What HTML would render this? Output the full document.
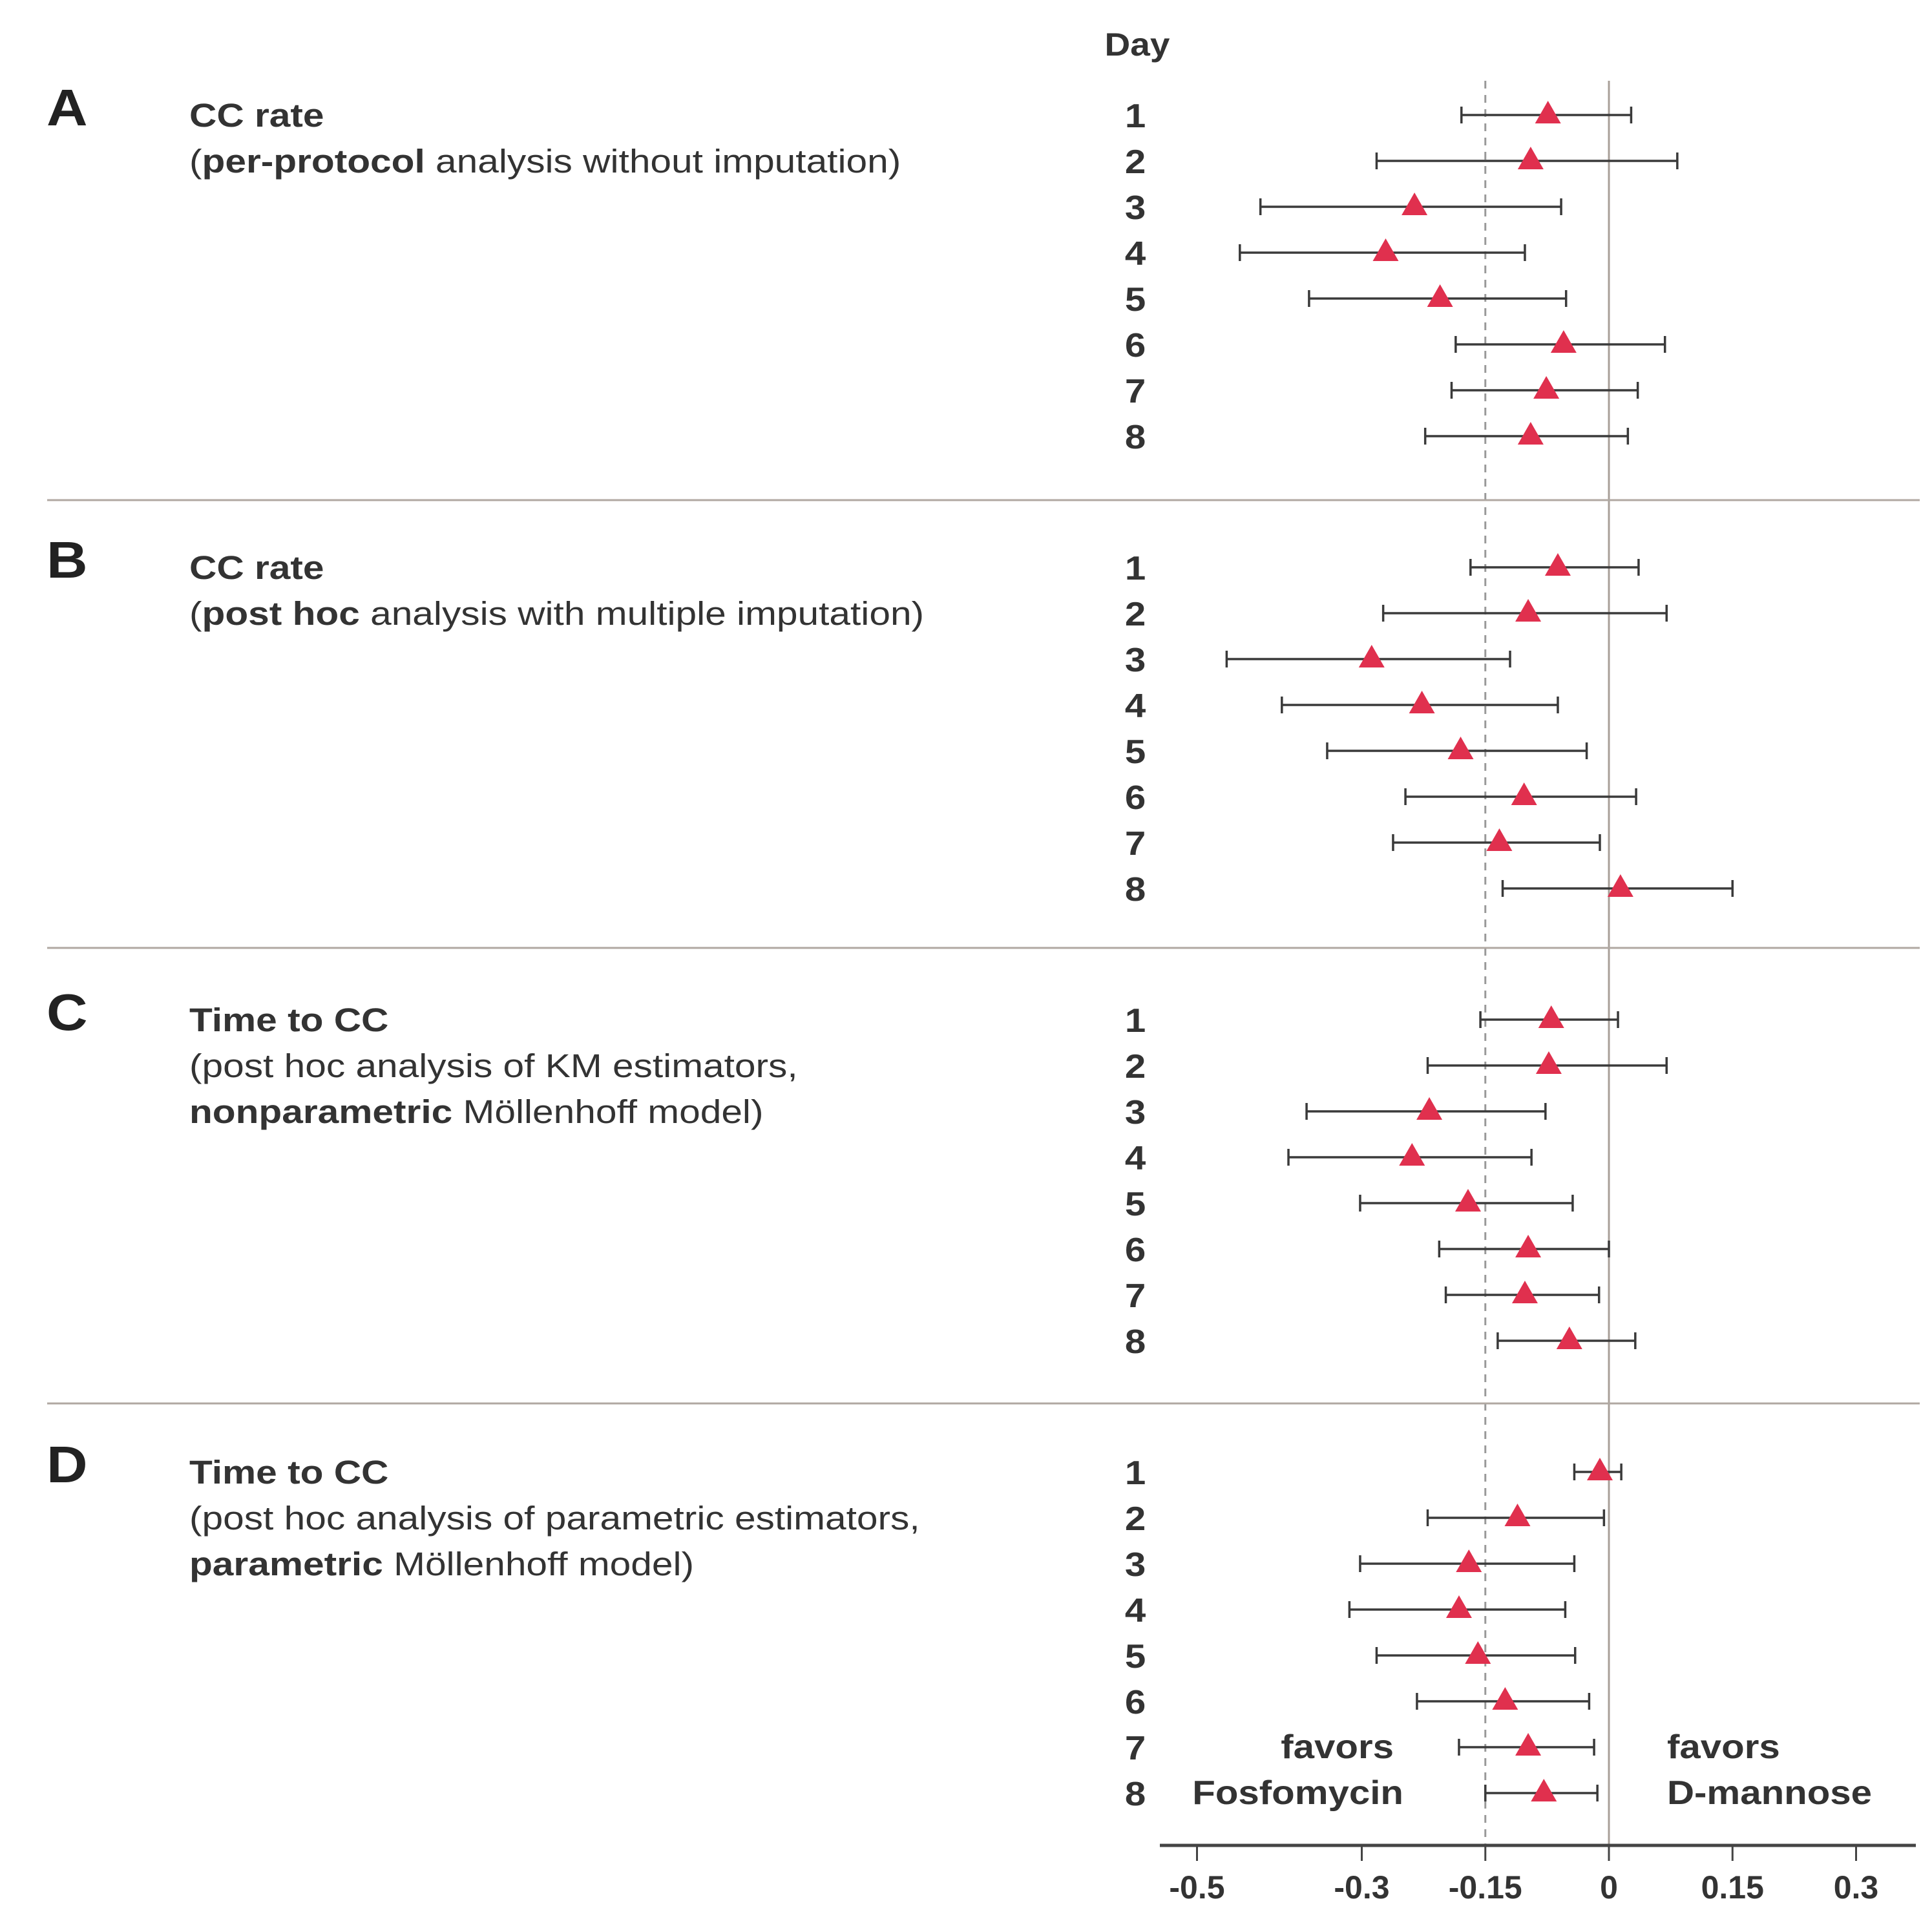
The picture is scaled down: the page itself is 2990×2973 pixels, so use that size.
<!DOCTYPE html>
<html><head><meta charset="utf-8"><style>
html,body{margin:0;padding:0;background:#fff}
svg{display:block;font-family:"Liberation Sans",Arial,sans-serif}
</style></head><body>
<svg id="chart" width="2990" height="2973" viewBox="0 0 2990 2973" xmlns="http://www.w3.org/2000/svg">
</svg>
<script>
const days = [1,2,3,4,5,6,7,8];
const estA = [-0.074,-0.095,-0.236,-0.271,-0.205,-0.055,-0.076,-0.095];
const loA  = [-0.179,-0.282,-0.423,-0.448,-0.364,-0.186,-0.191,-0.223];
const hiA  = [0.027,0.083,-0.058,-0.102,-0.052,0.068,0.035,0.023];
const estB = [-0.062,-0.098,-0.288,-0.227,-0.180,-0.103,-0.133,0.014];
const loB  = [-0.168,-0.274,-0.464,-0.397,-0.342,-0.247,-0.262,-0.129];
const hiB  = [0.036,0.070,-0.120,-0.062,-0.027,0.033,-0.011,0.150];
const estC = [-0.070,-0.073,-0.218,-0.239,-0.171,-0.098,-0.102,-0.048];
const loC  = [-0.156,-0.220,-0.367,-0.389,-0.302,-0.206,-0.198,-0.135];
const hiC  = [0.011,0.070,-0.077,-0.094,-0.044,0.000,-0.012,0.032];
const estD = [-0.011,-0.111,-0.170,-0.182,-0.159,-0.126,-0.098,-0.079];
const loD  = [-0.042,-0.220,-0.302,-0.315,-0.282,-0.233,-0.182,-0.150];
const hiD  = [0.015,-0.006,-0.042,-0.053,-0.041,-0.024,-0.018,-0.014];
const tickVals = [-0.5,-0.3,-0.15,0,0.15,0.3];
const tickLabels = ["-0.5","-0.3","-0.15","0","0.15","0.3"];

const NS="http://www.w3.org/2000/svg";
const svg=document.getElementById('chart');
function xs(v){return 2490+v*1275;}
function rowY(p,i){return 178+p*700+i*71;}
function mk(tag,attrs,parent){const e=document.createElementNS(NS,tag);for(const k in attrs)e.setAttribute(k,attrs[k]);(parent||svg).appendChild(e);return e;}

let l=mk('line',{x1:xs(0),x2:xs(0),y1:125,y2:2856,stroke:'#a89f98','stroke-width':3});


l=mk('line',{x1:xs(-0.15),x2:xs(-0.15),y1:125,y2:2856,stroke:'#999','stroke-width':3,'stroke-dasharray':'12,10'});



[774,1467,2172].forEach(y=>{
  const s=mk('line',{x1:73,x2:2971,y1:y,y2:y,stroke:'#b0a8a2','stroke-width':3});
  
  
});

let t=mk('text',{x:1760,y:86,'font-size':50,'font-weight':'bold','text-anchor':'middle',fill:'#333',transform:'translate(1760,0) scale(1.1,1) translate(-1760,0)'});
t.textContent='Day';



const panels=[
 {letter:'A',lines:[[['CC rate',true]],[['(',false],['per-protocol',true],[' analysis without imputation)',false]]],est:estA,lo:loA,hi:hiA},
 {letter:'B',lines:[[['CC rate',true]],[['(',false],['post hoc',true],[' analysis with multiple imputation)',false]]],est:estB,lo:loB,hi:hiB},
 {letter:'C',lines:[[['Time to CC',true]],[['(post hoc analysis of KM estimators,',false]],[['nonparametric',true],[' Möllenhoff model)',false]]],est:estC,lo:loC,hi:hiC},
 {letter:'D',lines:[[['Time to CC',true]],[['(post hoc analysis of parametric estimators,',false]],[['parametric',true],[' Möllenhoff model)',false]]],est:estD,lo:loD,hi:hiD}
];
panels.forEach((p,pi)=>{
  const g=mk('g',{});
  
  
  let L=mk('text',{x:0,y:rowY(pi,0)+16,'font-size':80,'font-weight':'bold',fill:'#222',transform:'translate(72,0) scale(1.1,1)'},g);
  L.textContent=p.letter;
  
  
  p.lines.forEach((ln,li)=>{
    const tx=mk('text',{x:0,y:rowY(pi,li)+18,'font-size':51,fill:'#333',transform:'translate(293,0) scale(1.15,1)'},g);
    
    
    ln.forEach(seg=>{const ts=mk('tspan',{'font-weight':seg[1]?'bold':'normal'},tx);ts.textContent=seg[0];});
  });
  days.forEach((d,i)=>{
    const y=rowY(pi,i);
    const n=mk('text',{x:0,y:y+19,'font-size':52,'font-weight':'bold','text-anchor':'middle',fill:'#333',transform:'translate(1757,0) scale(1.12,1)'},g);
    n.textContent=d;
    
    
    const x1=xs(p.lo[i]),x2=xs(p.hi[i]);
    const eb=mk('path',{d:`M${x1},${y}H${x2}M${x1},${y-13}V${y+13}M${x2},${y-13}V${y+13}`,stroke:'#3a3a3a','stroke-width':3.5,fill:'none'},g);
    
    
    const cx=xs(p.est[i]);
    const tr=mk('polygon',{points:`${cx},${y-22} ${cx-20},${y+13} ${cx+20},${y+13}`,fill:'#e0304e'},g);
    
    
  });
});

const ax=mk('g',{});


mk('line',{x1:1795,x2:2965,y1:2856,y2:2856,stroke:'#444','stroke-width':5},ax);
tickVals.forEach((v,i)=>{
  mk('line',{x1:xs(v),x2:xs(v),y1:2856,y2:2880,stroke:'#444','stroke-width':3},ax);
  const tl=mk('text',{x:xs(v),y:2938,'font-size':50,'font-weight':'bold','text-anchor':'middle',fill:'#333'},ax);
  tl.textContent=tickLabels[i];
  
  
});

[['favors',2157,2721,'end'],['Fosfomycin',2172,2792,'end'],['favors',2580,2721,'start'],['D-mannose',2580,2792,'start']].forEach(f=>{
  const e=mk('text',{x:0,y:f[2],'font-size':52,'font-weight':'bold','text-anchor':f[3],fill:'#333',transform:`translate(${f[1]},0) scale(1.12,1)`});
  e.textContent=f[0];
  
  
});
</script>
</body></html>
